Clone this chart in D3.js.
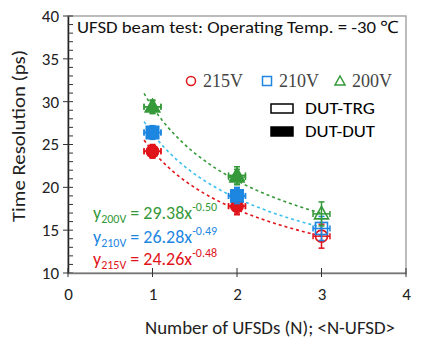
<!DOCTYPE html>
<html>
<head>
<meta charset="utf-8">
<script src="https://cdn.jsdelivr.net/npm/d3@7"></script>
<style>
  body { margin: 0; background: #fff; }
  svg { font-family: Carlito, Lato, "Open Sans", sans-serif; }
</style>
</head>
<body>
<div id="chart"></div>
<script>
// Data
const nUfsd = [1, 2, 3];
const series = ["215V", "210V", "200V"];
// DUT-TRG (open markers) time resolution, ps
const trg215 = [24.2, 17.8, 14.3];
const trg210 = [26.4, 19.0, 15.2];
const trg200 = [29.4, 21.4, 16.9];
const trgErr = [0.8, 1.0, 1.4];
// DUT-DUT (filled markers)
const dut215 = [24.2, 17.8];
const dut210 = [26.4, 19.0];
const dut200 = [29.4, 21.2];
const dutErr = [0.7, 0.9];
const xErr = 0.1;
// power-law fits  y = a * x^b
const fitA = [24.26, 26.28, 29.38];
const fitB = [-0.48, -0.49, -0.50];
const fitRange = [0.9, 3];
const xTicks = [0, 1, 2, 3, 4];
const yTicks = [10, 15, 20, 25, 30, 35, 40];

const colors = {"215V": "#e0141b", "210V": "#1c86e0", "200V": "#35993a"};
const fitColors = {"215V": "#e0141b", "210V": "#3cc0f0", "200V": "#35993a"};

const W = 424, H = 341;
const margin = {top: 16, right: 18, bottom: 68, left: 68};
const width = W - margin.left - margin.right,
      height = H - margin.top - margin.bottom;

const svg = d3.select("#chart").append("svg")
    .attr("width", W).attr("height", H);
const g = svg.append("g")
    .attr("transform", `translate(${margin.left},${margin.top})`);

const x = d3.scaleLinear().domain([0, 4]).range([0, width]);
const y = d3.scaleLinear().domain([10, 40]).range([height, 0]);

// frame
g.append("rect")
    .attr("x", 0).attr("y", 0)
    .attr("width", width).attr("height", height)
    .attr("fill", "none").attr("stroke", "#a6a6a6").attr("stroke-width", 1.5);

// y axis
const yAxis = g.append("g")
    .call(d3.axisLeft(y).tickValues(yTicks).tickSize(0).tickPadding(9).tickFormat(d3.format("d")));
yAxis.select(".domain").attr("stroke", "#222").attr("stroke-width", 1.5);
yAxis.selectAll("text").attr("font-size", 17).attr("fill", "#222")
    .attr("font-family", "Carlito, Lato, sans-serif");
// major ticks crossing, minor inside
g.append("g").selectAll("line")
    .data(d3.range(10, 41, 1))
    .join("line")
    .attr("x1", d => d % 5 === 0 ? -5 : 0)
    .attr("x2", 5)
    .attr("y1", d => y(d)).attr("y2", d => y(d))
    .attr("stroke", "#333").attr("stroke-width", 1);

// x axis
const xAxis = g.append("g")
    .attr("transform", `translate(0,${height})`)
    .call(d3.axisBottom(x).tickValues(xTicks).tickSize(0).tickPadding(15).tickFormat(d3.format("d")));
xAxis.select(".domain").attr("stroke", "#777").attr("stroke-width", 1.5);
xAxis.selectAll("text").attr("font-size", 17).attr("fill", "#222")
    .attr("font-family", "Carlito, Lato, sans-serif");
g.append("g").selectAll("line")
    .data(xTicks)
    .join("line")
    .attr("x1", d => x(d)).attr("x2", d => x(d))
    .attr("y1", height - 5).attr("y2", height + 4)
    .attr("stroke", "#333");

// axis titles
svg.append("text")
    .attr("transform", `translate(25,136) rotate(-90)`)
    .attr("text-anchor", "middle")
    .attr("font-size", 18).attr("fill", "#222")
    .attr("textLength", 172).attr("lengthAdjust", "spacingAndGlyphs")
    .text("Time Resolution (ps)");
svg.append("text")
    .attr("x", 145).attr("y", 334)
    .attr("font-size", 18).attr("fill", "#222")
    .attr("textLength", 250).attr("lengthAdjust", "spacingAndGlyphs")
    .text("Number of UFSDs (N); <N-UFSD>");

// title
svg.append("text")
    .attr("x", 77).attr("y", 33)
    .attr("font-size", 17).attr("fill", "#111")
    .attr("textLength", 322).attr("lengthAdjust", "spacingAndGlyphs")
    .text("UFSD beam test: Operating Temp. = -30 \u2103");

// fitted curves
const line = d3.line().x(d => x(d[0])).y(d => y(d[1]));
series.forEach((s, i) => {
  const pts = d3.range(0, 61).map(k => {
    const xv = fitRange[0] + (fitRange[1] - fitRange[0]) * k / 60;
    return [xv, fitA[i] * Math.pow(xv, fitB[i])];
  });
  g.append("path")
      .datum(pts)
      .attr("d", line)
      .attr("fill", "none")
      .attr("stroke", fitColors[s])
      .attr("stroke-width", 1.6)
      .attr("stroke-dasharray", "3,3");
});

// markers
function marker(sel, s, filled) {
  const c = colors[s];
  if (s === "215V") {
    sel.append("circle").attr("r", 6);
  } else if (s === "210V") {
    sel.append("rect").attr("x", -6).attr("y", -6).attr("width", 12).attr("height", 12);
  } else {
    sel.append("path").attr("d", "M0,-7.5L7,5L-7,5Z");
  }
  sel.selectAll("circle,rect,path")
      .attr("fill", filled ? c : "#fff")
      .attr("fill-opacity", filled ? 1 : 0)
      .attr("stroke", c).attr("stroke-width", 1.6);
}

function errorBars(s, xs, vals, errs) {
  const c = colors[s];
  const eg = g.append("g").attr("stroke", c).attr("stroke-width", 1.5);
  vals.forEach((v, k) => {
    const cx = x(xs[k]), cy = y(v);
    const y1 = y(v + errs[k]), y2 = y(v - errs[k]);
    const x1 = x(xs[k] - xErr), x2 = x(xs[k] + xErr);
    eg.append("line").attr("x1", cx).attr("x2", cx).attr("y1", y1).attr("y2", y2);
    eg.append("line").attr("x1", cx - 3).attr("x2", cx + 3).attr("y1", y1).attr("y2", y1);
    eg.append("line").attr("x1", cx - 3).attr("x2", cx + 3).attr("y1", y2).attr("y2", y2);
    eg.append("line").attr("x1", x1).attr("x2", x2).attr("y1", cy).attr("y2", cy);
    eg.append("line").attr("x1", x1).attr("x2", x1).attr("y1", cy - 3).attr("y2", cy + 3);
    eg.append("line").attr("x1", x2).attr("x2", x2).attr("y1", cy - 3).attr("y2", cy + 3);
  });
}

const trg = {"215V": trg215, "210V": trg210, "200V": trg200};
const dut = {"215V": dut215, "210V": dut210, "200V": dut200};

series.forEach(s => {
  errorBars(s, nUfsd, trg[s], trgErr);
  trg[s].forEach((v, k) => {
    marker(g.append("g").attr("transform", `translate(${x(nUfsd[k])},${y(v)})`), s, false);
  });
});
series.forEach(s => {
  errorBars(s, nUfsd, dut[s], dutErr);
  dut[s].forEach((v, k) => {
    marker(g.append("g").attr("transform", `translate(${x(nUfsd[k])},${y(v)})`), s, true);
  });
});

// legend: series
const legendX = [191, 267, 340];
series.forEach((s, i) => {
  const lg = svg.append("g").attr("transform", `translate(${legendX[i]},81)`);
  const c = colors[s];
  if (s === "215V") lg.append("circle").attr("r", 4.5);
  else if (s === "210V") lg.append("rect").attr("x", -4.5).attr("y", -4.5).attr("width", 9).attr("height", 9);
  else lg.append("path").attr("d", "M0,-5L5,4L-5,4Z");
  lg.selectAll("circle,rect,path").attr("fill", "none").attr("stroke", c).attr("stroke-width", 1.5);
  lg.append("text")
      .attr("x", 12).attr("y", 6)
      .attr("font-family", "Liberation Serif, DejaVu Serif, serif")
      .attr("font-size", 18).attr("fill", "#444")
      .text(s);
});

// legend: DUT-TRG / DUT-DUT
const kinds = ["DUT-TRG", "DUT-DUT"];
kinds.forEach((k, i) => {
  const ky = 104 + i * 23;
  svg.append("rect")
      .attr("x", 271).attr("y", ky).attr("width", 22).attr("height", 9)
      .attr("fill", i === 0 ? "#fff" : "#000").attr("stroke", "#000").attr("stroke-width", 1.5);
  svg.append("text")
      .attr("x", 305).attr("y", ky + 10)
      .attr("font-size", 17).attr("fill", "#000")
      .attr("textLength", 70).attr("lengthAdjust", "spacingAndGlyphs")
      .text(k);
});

// fit equations
const eqY = [219, 243, 265];
const eqOrder = [2, 1, 0];
eqOrder.forEach((si, j) => {
  const s = series[si];
  const t = svg.append("text")
      .attr("x", 93).attr("y", eqY[j])
      .attr("font-size", 18).attr("fill", colors[s]);
  t.append("tspan").text("y");
  t.append("tspan").attr("font-size", 12).attr("dy", 4).text(s);
  t.append("tspan").attr("dy", -4).text(" = " + fitA[si].toFixed(2) + "x");
  t.append("tspan").attr("font-size", 12).attr("dy", -8).text(fitB[si].toFixed(2));
});
</script>
</body>
</html>
